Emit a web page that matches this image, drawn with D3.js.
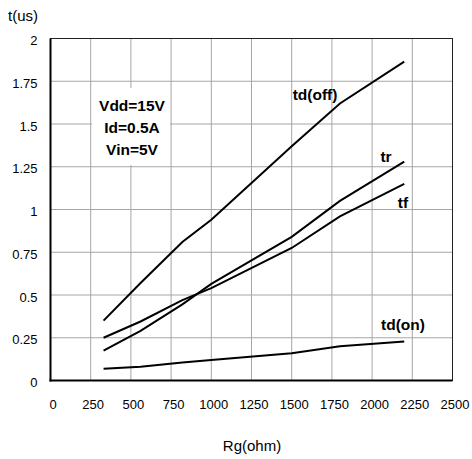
<!DOCTYPE html>
<html><head><meta charset="utf-8">
<script src="https://cdn.jsdelivr.net/npm/d3@7"></script>
<style>body{margin:0;background:#fff}svg{display:block;font-family:"Liberation Sans",Arial,sans-serif}</style>
</head><body>
<svg id="c" width="472" height="459"></svg>
<script>
const rg = [330, 560, 820, 1000, 1500, 1800, 2200];
const tdOff = [0.35, 0.57, 0.81, 0.94, 1.37, 1.62, 1.865];
const tr = [0.175, 0.29, 0.445, 0.565, 0.84, 1.05, 1.28];
const tf = [0.25, 0.345, 0.47, 0.54, 0.775, 0.96, 1.15];
const tdOn = [0.068, 0.08, 0.105, 0.12, 0.16, 0.2, 0.228];
const xTicks = [0, 250, 500, 750, 1000, 1250, 1500, 1750, 2000, 2250, 2500];
const yTicks = [0, 0.25, 0.5, 0.75, 1, 1.25, 1.5, 1.75, 2];
const seriesNames = ["td(off)", "tr", "tf", "td(on)"];
const notes = ["Vdd=15V", "Id=0.5A", "Vin=5V"];

const svg = d3.select("#c");
const L = 50.5, R = 452.5, T = 38.5, B = 380.5;
const x = d3.scaleLinear().domain([0, 2500]).range([L, R]);
const y = d3.scaleLinear().domain([0, 2]).range([B, T]);

// grid
const g = svg.append("g");
g.selectAll(".vx").data(xTicks.slice(1, -1)).join("line")
  .attr("x1", d => x(d)).attr("x2", d => x(d)).attr("y1", T).attr("y2", B)
  .attr("stroke", "#a6a6a6").attr("stroke-width", 1);
g.selectAll(".hy").data(yTicks.slice(1, -1)).join("line")
  .attr("y1", d => y(d)).attr("y2", d => y(d)).attr("x1", L).attr("x2", R)
  .attr("stroke", "#a6a6a6").attr("stroke-width", 1);

// frame
svg.append("rect").attr("x", L).attr("y", T).attr("width", R - L).attr("height", B - T)
  .attr("fill", "none").attr("stroke", "#222").attr("stroke-width", 1);
svg.append("line").attr("x1", L).attr("x2", L).attr("y1", T).attr("y2", B + 1).attr("stroke", "#000").attr("stroke-width", 2);
svg.append("line").attr("x1", L - 1).attr("x2", R).attr("y1", B).attr("y2", B).attr("stroke", "#000").attr("stroke-width", 2);

// axes tick labels
const xAxis = d3.axisBottom(x).tickValues(xTicks).tickSize(0).tickPadding(0).tickFormat(d3.format("d"));
const xa = svg.append("g").attr("transform", `translate(2,${B})`).call(xAxis);
xa.select(".domain").remove();
xa.selectAll("text").attr("dy", null).attr("y", 28).attr("font-size", 13).attr("fill", "#000")
  .attr("font-family", "Liberation Sans, Arial, sans-serif");
const yAxis = d3.axisLeft(y).tickValues(yTicks).tickSize(0).tickPadding(0).tickFormat(d => String(d));
const ya = svg.append("g").attr("transform", `translate(37.5,1.5)`).call(yAxis);
ya.select(".domain").remove();
ya.selectAll("text").attr("dy", "0.36em").attr("x", 0).attr("font-size", 13).attr("fill", "#000")
  .attr("font-family", "Liberation Sans, Arial, sans-serif");

svg.append("text").attr("x", 8).attr("y", 21).attr("font-size", 15).text("t(us)");
svg.append("text").attr("x", 252).attr("y", 451).attr("text-anchor", "middle").attr("font-size", 15).text("Rg(ohm)");

// series
const line = d3.line().x(d => x(d[0])).y(d => y(d[1]));
[tdOff, tr, tf, tdOn].forEach(vals => {
  svg.append("path").datum(rg.map((r, i) => [r, vals[i]]))
    .attr("d", line).attr("fill", "none").attr("stroke", "#000").attr("stroke-width", 2);
});

// series labels
const labelPos = [[315, 100], [386, 162], [403, 208], [403, 330]];
seriesNames.forEach((n, i) => {
  svg.append("text").attr("x", labelPos[i][0]).attr("y", labelPos[i][1]).attr("text-anchor", "middle")
    .attr("font-size", 15.5).attr("font-weight", "bold").text(n);
});

// annotation
svg.append("rect").attr("x", 92).attr("y", 88).attr("width", 78).attr("height", 77).attr("fill", "#fff");
notes.forEach((n, i) => {
  svg.append("text").attr("x", 132).attr("y", 111 + i * 22).attr("text-anchor", "middle")
    .attr("font-size", 15.5).attr("font-weight", "bold").text(n);
});
</script>
</body></html>
